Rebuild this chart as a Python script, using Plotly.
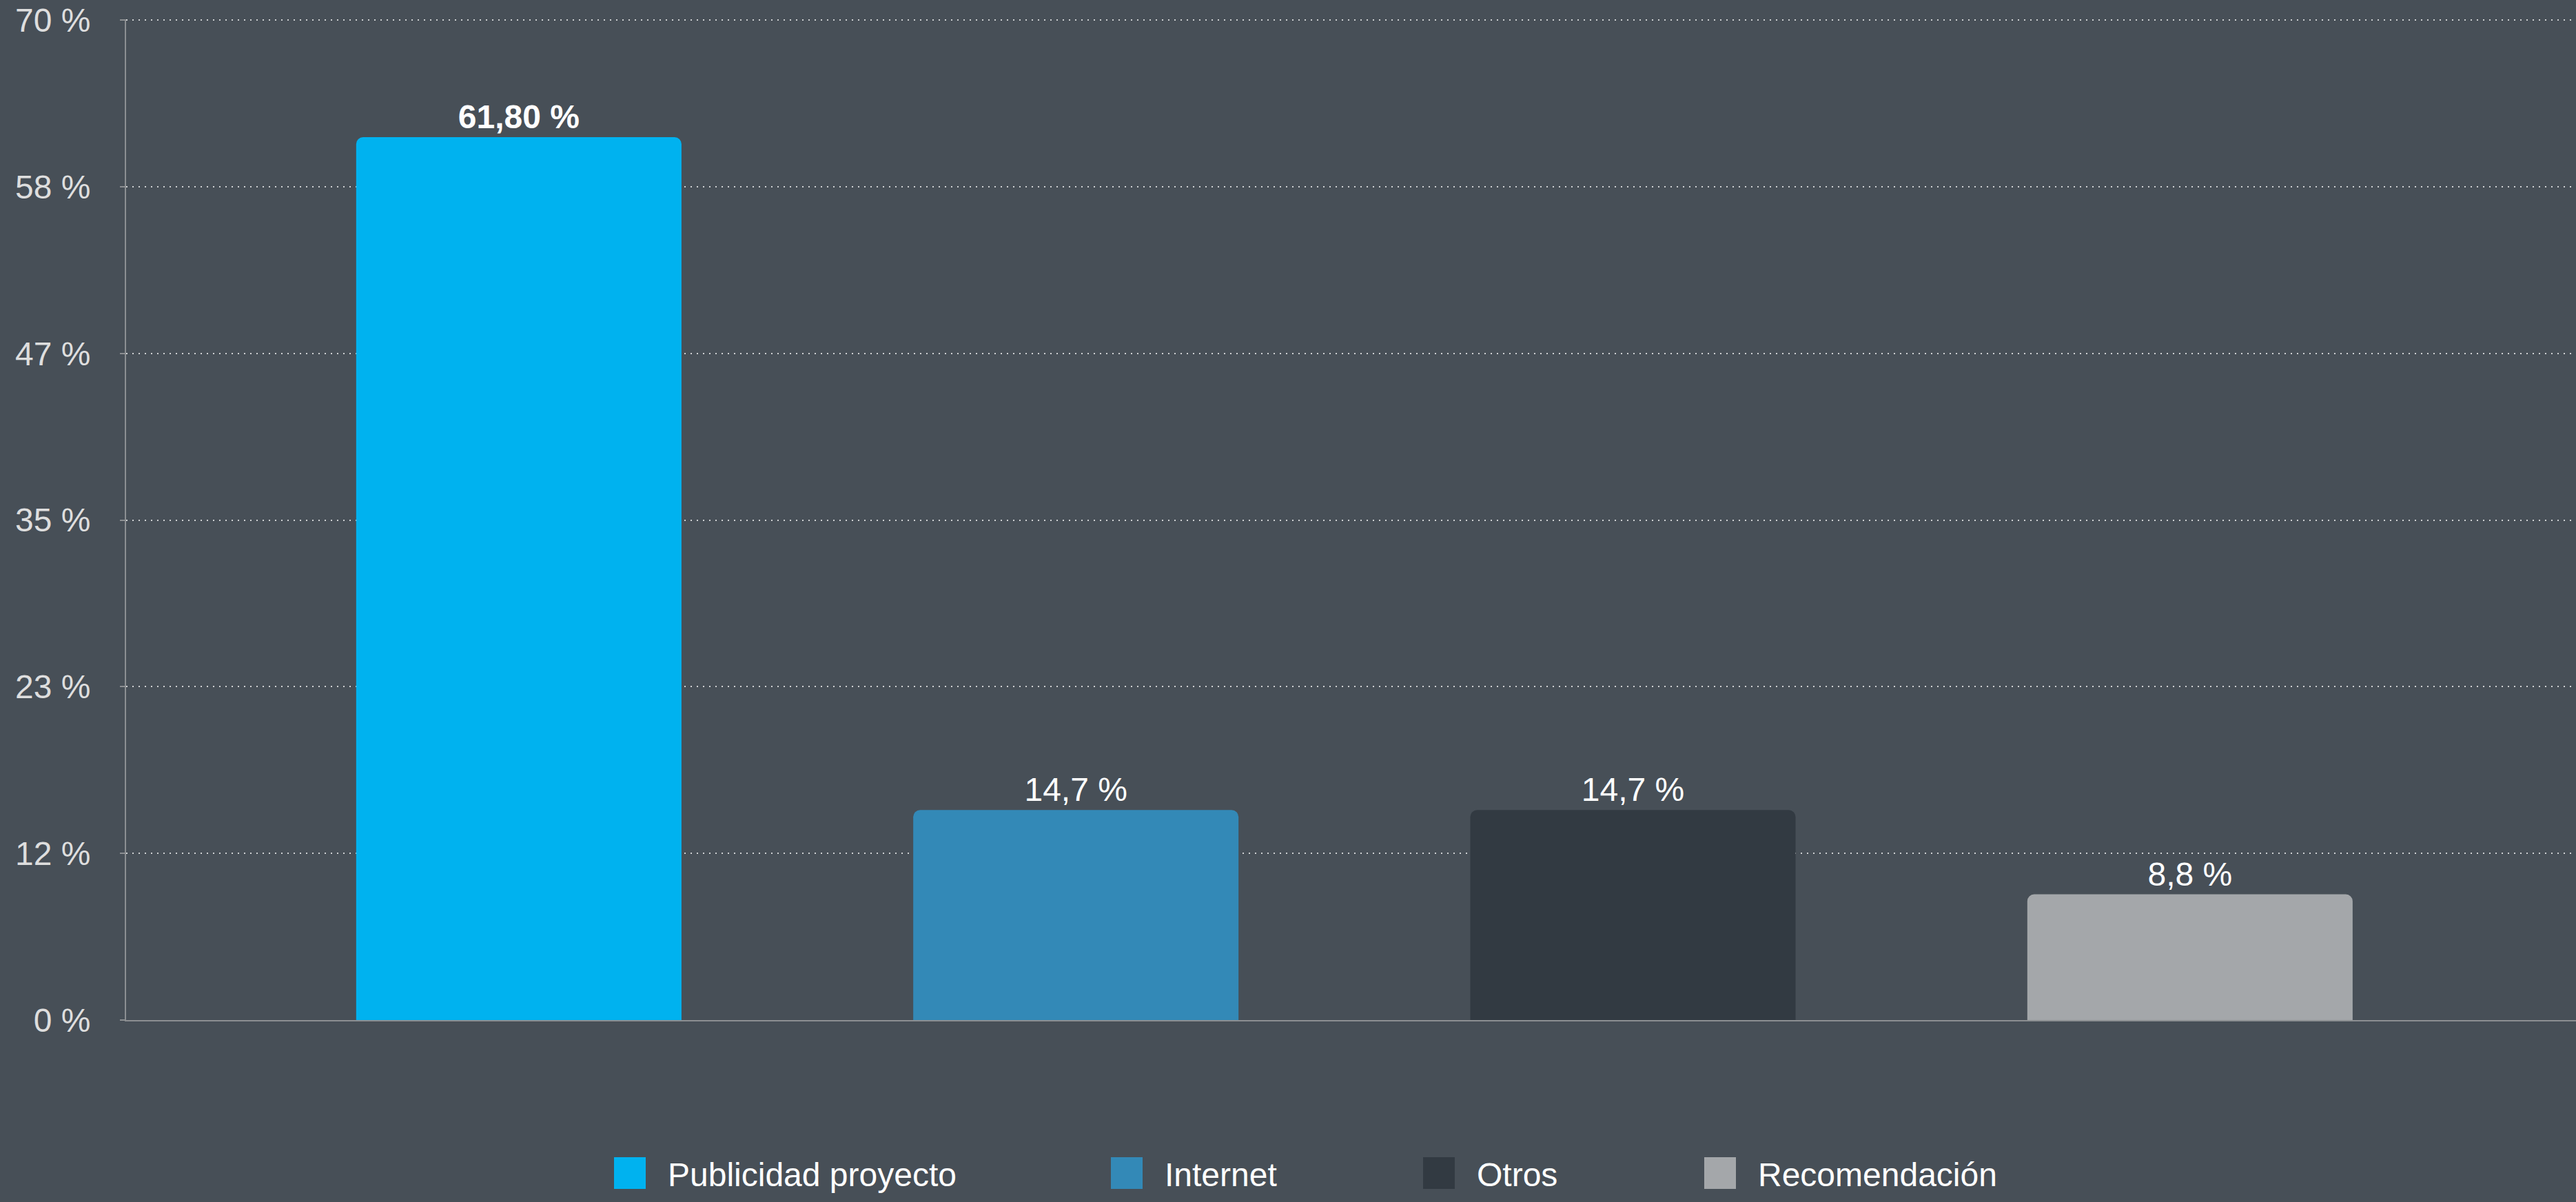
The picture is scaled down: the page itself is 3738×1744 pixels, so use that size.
import plotly.graph_objects as go

# ---- data ----
categories = ["Publicidad proyecto", "Internet", "Otros", "Recomendación"]
values = [61.8, 14.7, 14.7, 8.8]
value_labels = ["61,80 %", "14,7 %", "14,7 %", "8,8 %"]
tick_values = [0, 70 / 6, 2 * 70 / 6, 3 * 70 / 6, 4 * 70 / 6, 5 * 70 / 6, 70]
tick_labels = ["0 %", "12 %", "23 %", "35 %", "47 %", "58 %", "70 %"]

# ---- style ----
colors = ["#00b2ef", "#3389b7", "#323a42", "#a4a7aa"]
label_weights = ["bold", "normal", "normal", "normal"]
BG = "#474f57"
AXIS = "#8c8f92"
FONT = "Liberation Sans, Arial, Helvetica, sans-serif"

W, H = 3738, 1744
ML, MR, MT, MB = 183, 0, 28, 264
PW, PH = W - ML - MR, H - MT - MB
Y_MAX = 70.05

fig = go.Figure()
for i, (cat, v, lab) in enumerate(zip(categories, values, value_labels)):
    fig.add_trace(go.Bar(
        x=[i], y=[v], name=cat, width=0.584,
        marker=dict(color=colors[i], line=dict(width=0)),
        text=[lab], textposition="outside", cliponaxis=False,
        textfont=dict(family=FONT, size=48, color="#ffffff", weight=label_weights[i]),
        showlegend=False,
    ))

# manual legend (large square swatches)
def px_x(px):
    return (px - ML) / PW

def px_y(py):
    return (H - MB - py) / PH

legend_sq_left = [891, 1612, 2065, 2473]
SQ = 46
leg_top = 1679
shapes = []
annotations = []
for i, cat in enumerate(categories):
    x0 = legend_sq_left[i]
    shapes.append(dict(type="rect", xref="paper", yref="paper",
                       x0=px_x(x0), x1=px_x(x0 + SQ),
                       y0=px_y(leg_top + SQ), y1=px_y(leg_top),
                       fillcolor=colors[i], line=dict(width=0)))
    annotations.append(dict(xref="paper", yref="paper", x=px_x(x0 + SQ + 30),
                            y=px_y(leg_top + SQ / 2 + 2), xanchor="left", yanchor="middle",
                            text=cat, showarrow=False,
                            font=dict(family=FONT, size=48, color="#ffffff")))

fig.update_layout(
    width=W, height=H,
    margin=dict(l=ML, r=MR, t=MT, b=MB, pad=0),
    paper_bgcolor=BG, plot_bgcolor=BG,
    barmode="overlay",
    barcornerradius=10,
    showlegend=False,
    shapes=shapes,
    annotations=annotations,
    font=dict(family=FONT, size=48, color="#dedede"),
)
fig.update_xaxes(
    range=[-0.705, 3.693], showticklabels=False, showgrid=False, zeroline=False,
    showline=True, linecolor=AXIS, linewidth=2, ticks="",
)
fig.update_yaxes(
    range=[0, Y_MAX], tickvals=tick_values, ticktext=tick_labels,
    showgrid=True, gridcolor="#cfd1d3", gridwidth=2, griddash="2px,7px",
    zeroline=False, showline=True, linecolor=AXIS, linewidth=2,
    ticks="outside", ticklen=7, tickwidth=2, tickcolor=AXIS,
    ticklabelstandoff=33,
    tickfont=dict(family=FONT, size=48, color="#dedede"),
)

fig.write_html("out.html")
